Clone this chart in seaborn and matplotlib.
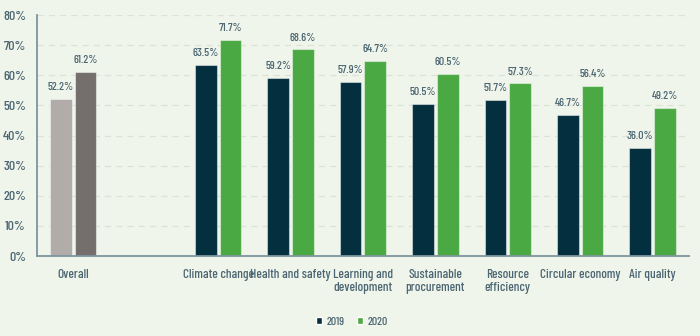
import matplotlib
matplotlib.use("Agg")
import matplotlib.pyplot as plt
import seaborn as sns
import pandas as pd
import numpy as np
from matplotlib.patches import Patch
from matplotlib import font_manager

categories = ["Overall", " ", "Climate change", "Health and safety", "Learning and\ndevelopment",
              "Sustainable\nprocurement", "Resource\nefficiency", "Circular economy", "Air quality"]
values_2019 = [52.2, np.nan, 63.5, 59.2, 57.9, 50.5, 51.7, 46.7, 36.0]
values_2020 = [61.2, np.nan, 71.7, 68.6, 64.7, 60.5, 57.3, 56.4, 49.2]
years = ["2019", "2020"]
y_ticks = [0, 10, 20, 30, 40, 50, 60, 70, 80]

BG = "#eff5ea"
TXT = "#4b6572"
NAVY = "#032f3e"
GREEN = "#4aa943"
LGREY = "#b1abaa"
DGREY = "#746e6c"
AXC = "#7f959d"

names = {f.name for f in font_manager.fontManager.ttflist}
fam = ["Barlow Condensed"] if "Barlow Condensed" in names else ["DejaVu Sans"]

sns.set_theme(style="white")
plt.rcParams["font.family"] = fam + ["DejaVu Sans"]
plt.rcParams["font.weight"] = "medium"

df = pd.DataFrame({
    "category": categories * 2,
    "year": [years[0]] * len(categories) + [years[1]] * len(categories),
    "value": values_2019 + values_2020,
})

fig = plt.figure(figsize=(7, 3.36), dpi=100, facecolor=BG)
ax = fig.add_axes([0.053, 0.238, 0.931, 0.717])
ax.set_facecolor(BG)

sns.barplot(data=df, x="category", y="value", hue="year", order=categories,
            hue_order=years, palette=[NAVY, GREEN], width=0.68, gap=0.12,
            ax=ax, legend=False, edgecolor=(1, 1, 1, 0.45), linewidth=0.8,
            saturation=1)

for cont in ax.containers:
    for bar in cont:
        h = bar.get_height()
        if np.isnan(h) or h == 0:
            continue
        cx = bar.get_x() + bar.get_width() / 2
        if abs(cx) < 0.5:
            bar.set_facecolor(LGREY if bar.get_x() < 0 else DGREY)
        ax.text(cx, h + 2.3, f"{h:.1f}%", ha="center", va="bottom",
                fontsize=8.5, color=TXT)

ax.set_ylim(0, 80)
ax.set_xlim(-0.5, 8.5)
ax.set_yticks(y_ticks)
ax.set_yticklabels([f"{t}%" for t in y_ticks], fontsize=10, color=TXT)
ax.tick_params(axis="y", length=0, pad=8)
ax.set_xticks(range(len(categories)))
ax.set_xticklabels(categories, fontsize=9.5, color=TXT, linespacing=1.15)
ax.tick_params(axis="x", which="major", length=0, pad=9)
ax.set_xticks(np.arange(0.5, 9, 1.0), minor=True)
ax.tick_params(axis="x", which="minor", length=4, width=1, color=AXC, direction="out")
ax.set_xlabel("")
ax.set_ylabel("")

for t in y_ticks[1:]:
    ax.axhline(t, color="#dbe3d6", linewidth=0.9, linestyle=(0, (5, 4)), zorder=0)

for s in ["top", "right"]:
    ax.spines[s].set_visible(False)
for s in ["left", "bottom"]:
    ax.spines[s].set_color(AXC)
    ax.spines[s].set_linewidth(1.3)

handles = [Patch(facecolor=NAVY, label="2019"), Patch(facecolor=GREEN, label="2020")]
leg = fig.legend(handles=handles, loc="center", bbox_to_anchor=(0.503, 0.042), ncol=2,
                 frameon=False, fontsize=8.5, handlelength=0.55, handleheight=0.55,
                 handletextpad=0.4, columnspacing=1.0)
for t in leg.get_texts():
    t.set_color(TXT)

fig.savefig("out.png", dpi=100, facecolor=BG)
